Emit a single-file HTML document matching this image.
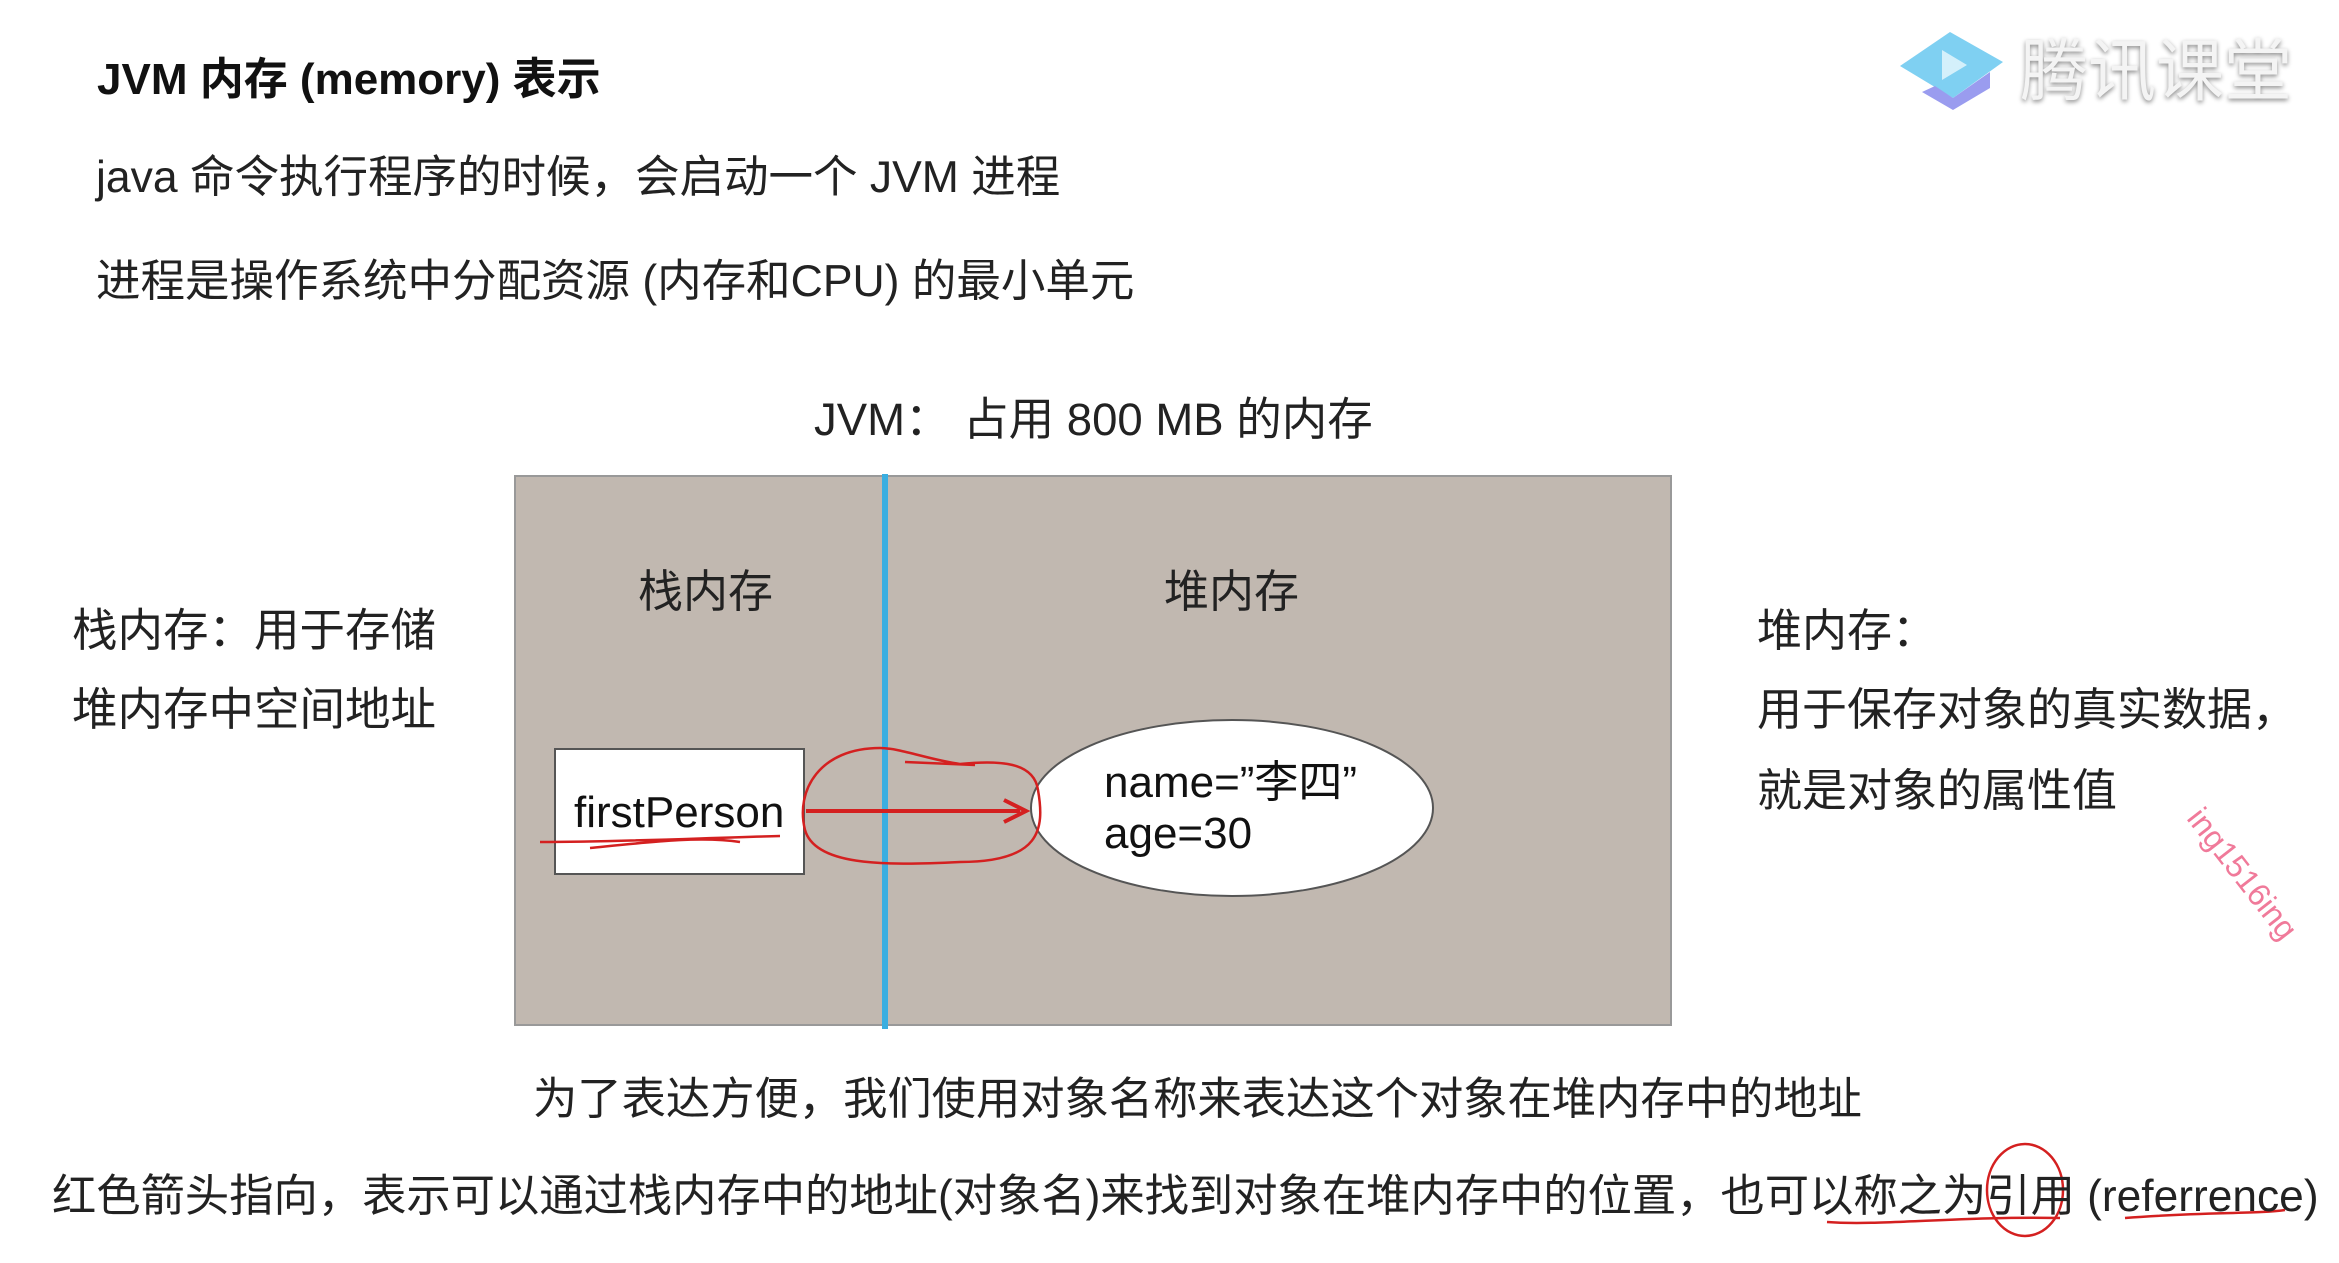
<!DOCTYPE html>
<html><head><meta charset="utf-8"><style>
html,body{margin:0;padding:0;background:#fff;}
body{width:2339px;height:1263px;position:relative;overflow:hidden;font-family:"Liberation Sans","Noto Sans CJK SC",sans-serif;color:#222;}
.t{position:absolute;white-space:nowrap;line-height:1;}
</style></head><body>
<div class="t" style="left:97px;top:58px;font-size:44px;font-weight:bold;color:#111;">JVM 内存 (memory) 表示</div>
<div class="t" style="left:96px;top:156px;font-size:44.5px;">java 命令执行程序的时候，会启动一个 JVM 进程</div>
<div class="t" style="left:96px;top:260px;font-size:44.5px;">进程是操作系统中分配资源 (内存和CPU) 的最小单元</div>
<div class="t" style="left:814px;top:397px;font-size:45.5px;">JVM：&nbsp;占用 800 MB 的内存</div>

<svg style="position:absolute;left:0;top:0" width="2339" height="1263">
<rect x="515" y="476" width="1156" height="549" fill="#c1b8b0" stroke="#999" stroke-width="2"/>
<line x1="885" y1="474" x2="885" y2="1029" stroke="#3aaee0" stroke-width="6"/>
<rect x="555" y="749" width="249" height="125" fill="#fff" stroke="#555" stroke-width="2"/>
<ellipse cx="1232" cy="808" rx="201" ry="88" fill="#fff" stroke="#555" stroke-width="2"/>
<text x="574" y="827" font-size="44" font-family="Liberation Sans,sans-serif" fill="#111">firstPerson</text>
<text x="1104" y="797" font-size="44" font-family="Liberation Sans,Noto Sans CJK SC,sans-serif" fill="#111">name=”李四”</text>
<text x="1104" y="848" font-size="44" font-family="Liberation Sans,sans-serif" fill="#111">age=30</text>
<line x1="806" y1="811" x2="1020" y2="811" stroke="#d42020" stroke-width="4"/>
<path d="M1004 800 L1026 811 L1004 822" fill="none" stroke="#d42020" stroke-width="4"/>
<path d="M880 748 C820 748 795 790 805 830 C815 865 880 866 960 862 C1040 862 1045 830 1038 790 C1034 762 1000 760 960 764 C930 760 900 748 880 748 Z" fill="none" stroke="#d42020" stroke-width="2.5"/>
<path d="M905 762 L975 765" stroke="#d42020" stroke-width="2.5"/>
<path d="M540 842 C620 842 700 838 780 836 M590 848 C650 842 700 836 740 842" fill="none" stroke="#d42020" stroke-width="2.5"/>
<path d="M1827 1222 C1880 1226 1960 1216 2060 1218 M2125 1218 C2200 1212 2260 1214 2285 1210" fill="none" stroke="#d42020" stroke-width="2.5"/>
<ellipse cx="2025" cy="1190" rx="38" ry="46" fill="none" stroke="#d42020" stroke-width="2.5"/>
<!-- logo -->
<polygon points="1900,66 1950,32 2003,62 1953,98" fill="#7fd0f2"/>
<polygon points="1922,92 1953,110 1990,88 1990,72 1953,98 1935,86" fill="#9a9cef"/>
<polygon points="1942,50 1967,65 1942,80" fill="#d4f0fb"/>
</svg>
<div class="t" style="left:2020px;top:38px;font-size:68px;color:#f4f4f4;text-shadow:0 2px 5px #888;">腾讯课堂</div>

<div class="t" style="left:638px;top:569px;font-size:45px;">栈内存</div>
<div class="t" style="left:1164px;top:569px;font-size:45px;">堆内存</div>

<div class="t" style="left:72px;top:608px;font-size:45.5px;">栈内存：用于存储</div>
<div class="t" style="left:72px;top:687px;font-size:45.5px;">堆内存中空间地址</div>
<div class="t" style="left:1757px;top:608px;font-size:45px;">堆内存：</div>
<div class="t" style="left:1757px;top:687px;font-size:45px;">用于保存对象的真实数据，</div>
<div class="t" style="left:1757px;top:768px;font-size:45px;">就是对象的属性值</div>

<div class="t" style="left:533px;top:1078px;font-size:44.3px;">为了表达方便，我们使用对象名称来表达这个对象在堆内存中的地址</div>
<div class="t" style="left:52px;top:1175px;font-size:44.3px;">红色箭头指向，表示可以通过栈内存中的地址(对象名)来找到对象在堆内存中的位置，也可以称之为引用 (referrence)</div>
<div class="t" style="left:2207px;top:802px;font-size:32px;color:#f07a9a;transform:rotate(52deg);transform-origin:left top;">ing1516ing</div>
</body></html>
